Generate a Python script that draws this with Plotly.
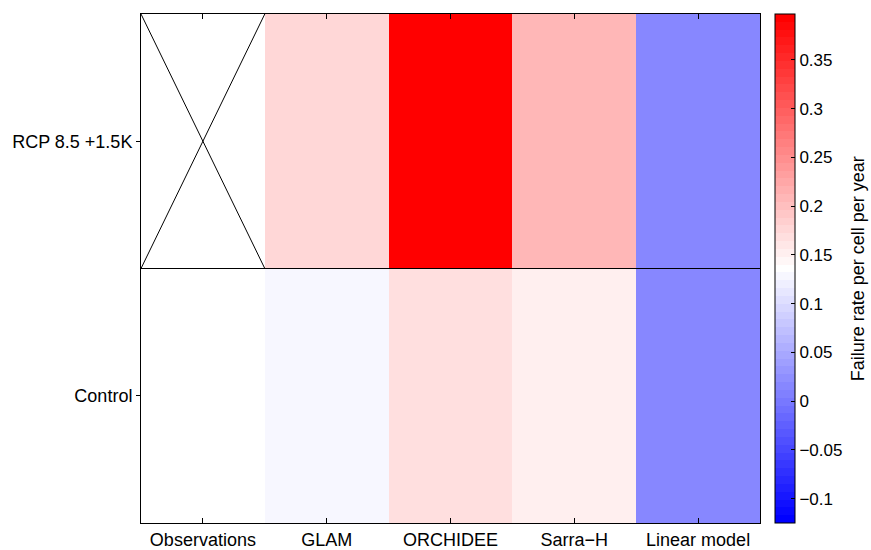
import numpy as np
import plotly.graph_objects as go

# Crop model failure rates per grid cell per year
models = ["Observations", "GLAM", "ORCHIDEE", "Sarra\u2212H", "Linear model"]
scenarios = ["Control", "RCP 8.5 +1.5K"]
control_rate = [0.136, 0.126, 0.170, 0.156, 0.014]
rcp_rate = [None, 0.174, 0.397, 0.207, 0.015]

cbar_ticks = [-0.1, -0.05, 0, 0.05, 0.1, 0.15, 0.2, 0.25, 0.3, 0.35]
cbar_ticktext = ["\u22120.1", "\u22120.05", "0", "0.05", "0.1", "0.15", "0.2", "0.25", "0.3", "0.35"]
cbar_title = "Failure rate per cell per year"
zmin, zmax = -0.125, 0.397

# Stepped blue-white-red colour map, odd number of levels so the centre is white
n = 65
cols = []
for i in range(n):
    t = i / (n - 1)
    if t < 0.5:
        f = t / 0.5
        c = (round(255 * f), round(255 * f), 255)
    else:
        f = (1 - t) / 0.5
        c = (255, round(255 * f), round(255 * f))
    cols.append("rgb(%d,%d,%d)" % c)
scale = []
for i, c in enumerate(cols):
    scale.append([i / n, c])
    scale.append([(i + 1) / n, c])

z = np.array([
    [np.nan if v is None else v for v in control_rate],
    [np.nan if v is None else v for v in rcp_rate],
], dtype=float)

font = "Liberation Sans, Arial, sans-serif"

fig = go.Figure(go.Heatmap(
    z=z, x=models, y=scenarios,
    zmin=zmin, zmax=zmax, colorscale=scale,
    xgap=0, ygap=0, hoverongaps=False,
    colorbar=dict(
        x=1.0242, xanchor="left", xpad=0,
        y=0.5, yanchor="middle", len=1, lenmode="fraction", ypad=0,
        thickness=20, thicknessmode="pixels",
        outlinecolor="black", outlinewidth=1,
        tickvals=cbar_ticks, ticktext=cbar_ticktext,
        ticks="inside", ticklen=4, tickcolor="black",
        tickfont=dict(family=font, size=17, color="black"),
    ),
))

# Row separator and the cross over the missing observation cell
shapes = [
    dict(type="line", xref="x", yref="y", x0=-0.5, x1=4.5, y0=0.5, y1=0.5,
         line=dict(color="black", width=1)),
    dict(type="line", xref="x", yref="y", x0=-0.5, x1=0.5, y0=0.5, y1=1.5,
         line=dict(color="black", width=1)),
    dict(type="line", xref="x", yref="y", x0=-0.5, x1=0.5, y0=1.5, y1=0.5,
         line=dict(color="black", width=1)),
]

fig.update_layout(
    width=871, height=550,
    margin=dict(l=141, r=111, t=14, b=27),
    paper_bgcolor="white", plot_bgcolor="white",
    font=dict(family=font, size=18, color="black"),
    shapes=shapes,
    annotations=[dict(
        text=cbar_title, textangle=-90, showarrow=False,
        xref="paper", yref="paper", x=1.158, y=0.5,
        xanchor="center", yanchor="middle",
        font=dict(family=font, size=18, color="black"),
    )],
    xaxis=dict(
        range=[-0.5, 4.5], showgrid=False, zeroline=False, automargin=False,
        showline=True, linecolor="black", linewidth=1, mirror="ticks",
        ticks="inside", ticklen=5, tickcolor="black",
        tickfont=dict(family=font, size=18, color="black"),
    ),
    yaxis=dict(
        range=[-0.5, 1.5], showgrid=False, zeroline=False, automargin=False,
        showline=True, linecolor="black", linewidth=1, mirror=True,
        ticks="outside", ticklen=4, tickcolor="black",
        tickfont=dict(family=font, size=18, color="black"),
    ),
)

fig.write_html("out.html")
